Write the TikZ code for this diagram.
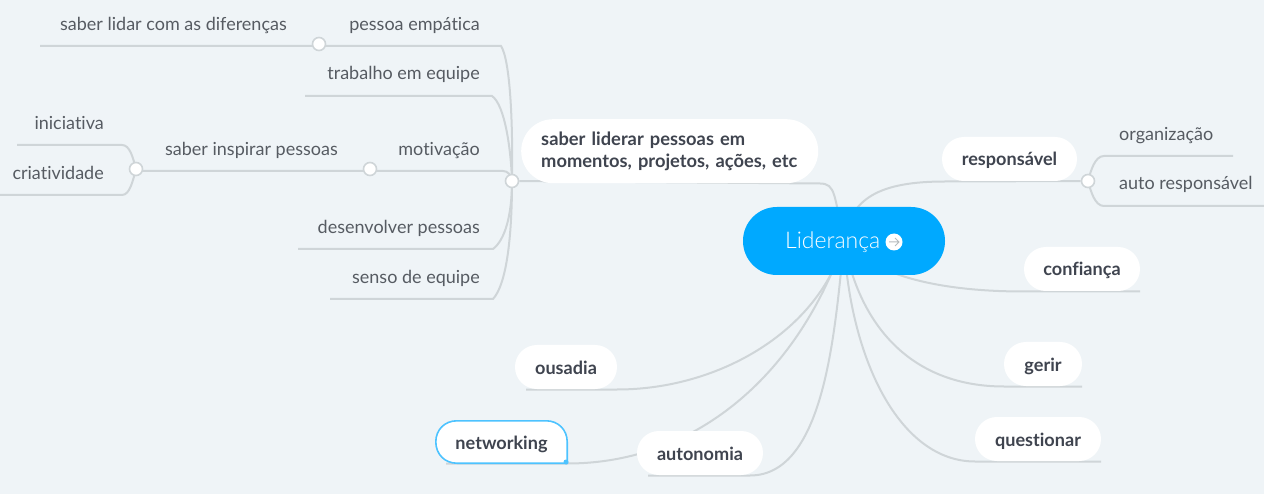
\documentclass[tikz,border=0pt]{standalone}
\usepackage{fontspec}
\setmainfont[Ligatures=NoCommon]{Lato}
\newfontfamily\lightfont{Lato Light}
\usetikzlibrary{backgrounds,calc}
\definecolor{bgc}{HTML}{EFF4F7}
\definecolor{linec}{HTML}{CFD5D8}
\definecolor{rootc}{HTML}{00A9FF}
\definecolor{topicc}{HTML}{3F444F}
\definecolor{subc}{HTML}{565B62}
\definecolor{selc}{HTML}{4DC3FF}
\tikzset{
  pill/.style={fill=white,inner sep=0pt,minimum height=44pt,rounded corners=21.9pt,text height=14pt,text depth=0pt,font=\fontsize{18.1}{20}\selectfont\bfseries,text=topicc},
  sub/.style={inner sep=0pt,yshift=-1.2pt,font=\fontsize{18}{20}\selectfont,text=subc},
  knob/.style={circle,fill=white,draw=linec,line width=1.6pt,minimum size=13pt,inner sep=0pt},
  link/.style={draw=linec,line width=2pt},
}
\begin{document}
\begin{tikzpicture}[x=1pt,y=-1pt]
\useasboundingbox (0,0) rectangle (1264,494);
% main topics
\node[fill=rootc,rounded corners=33.9pt,minimum width=202pt,minimum height=68pt,inner sep=0pt] (root) at (844,241) {};
\node[inner sep=0pt,anchor=base west,text=white,font=\lightfont\fontsize{23}{26}\selectfont] (rootlabel) at (785,248.5) {Liderança};
\node[circle,fill=white,minimum size=17pt,inner sep=0pt] (icon) at (894,242) {};
\node[fill=white,inner sep=0pt,minimum width=297pt,minimum height=64pt,rounded corners=31.9pt,align=left,anchor=north west,text width=257pt,inner xsep=20pt,text=topicc,font=\fontsize{18.3}{22}\selectfont\bfseries] (lead) at (521,119) {saber liderar pessoas em\\momentos, projetos, ações, etc};
\node[pill,minimum width=135pt] (resp) at (1009.5,159) {responsável};
\node[pill,minimum width=116pt] (conf) at (1082,269) {confiança};
\node[pill,minimum width=78pt] (gerir) at (1043,364) {gerir};
\node[pill,minimum width=126pt] (quest) at (1038,439) {questionar};
\node[pill,minimum width=102pt] (ous) at (566,367) {ousadia};
\node[pill,minimum width=126pt] (auto) at (700,453) {autonomia};
\node[inner sep=0pt,minimum width=131pt,minimum height=42pt,text height=14pt,text depth=0pt,font=\fontsize{18.1}{20}\selectfont\bfseries,text=topicc] (net) at (501.5,442) {networking};
\node[circle,fill=selc,minimum size=5pt,inner sep=0pt] (netdot) at (566,462) {};
% knobs
\node[knob] (hub) at (512,181) {};
\node[knob] (knobemp) at (319,44) {};
\node[knob] (knobmot) at (370,169) {};
\node[knob] (knobins) at (136,169) {};
\node[knob] (knobresp) at (1088,181) {};
% subtopic labels
\node[sub,anchor=east] (emp) at (480,24) {pessoa empática};
\node[sub,anchor=east] (dif) at (287,24) {saber lidar com as diferenças};
\node[sub,anchor=east] (trab) at (480,73) {trabalho em equipe};
\node[sub,anchor=east] (mot) at (480,149) {motivação};
\node[sub,anchor=east] (ins) at (338,149) {saber inspirar pessoas};
\node[sub,anchor=east] (ini) at (104,122) {iniciativa};
\node[sub,anchor=east] (cri) at (104,172) {criatividade};
\node[sub,anchor=east] (des) at (480,227) {desenvolver pessoas};
\node[sub,anchor=east] (sen) at (480,277) {senso de equipe};
\node[sub,anchor=west] (org) at (1119,134) {organização};
\node[sub,anchor=west] (ars) at (1119,183) {auto responsável};
% free ends
\coordinate (endemp) at (40,46);
\coordinate (endtrab) at (305,96);
\coordinate (endini) at (17,145);
\coordinate (endcri) at (0,195);
\coordinate (enddes) at (298,249);
\coordinate (endsen) at (330,299);
\coordinate (endorg) at (1233,156);
\coordinate (endars) at (1264,206);
\begin{scope}[on background layer]
\fill[bgc] (0,0) rectangle (1264,494);
% root links
\draw[link] (root.center) .. controls (834,196) and (836,183.5) .. (820,183.5) -- (hub);
\draw[link] (root.center) .. controls (850,198) and (880,181.5) .. (945,181.5) -- (knobresp);
\draw[link] (root.center) .. controls (870,272) and (930,291.5) .. (1024,291.5) -- (conf.south east |- 0,291.5);
\draw[link] (root.center) .. controls (860,330) and (915,386.5) .. (1004,386.5) -- (gerir.south east |- 0,386.5);
\draw[link] (root.center) .. controls (850,360) and (900,461.5) .. (975,461.5) -- (quest.south east |- 0,461.5);
\draw[link] (root.center) .. controls (820,330) and (720,389.5) .. (ous.south east |- 0,389.5) -- (526,389.5);
\draw[link] (root.center) .. controls (800,370) and (700,463.5) .. (net.south east |- 0,463.5) -- (446,463.5);
\draw[link] (root.center) .. controls (835,330) and (825,475.5) .. (750,475.5) -- (648,475.5);
% left cluster
\draw[link] (hub.center) .. controls (513,120) and (510,60) .. (501,46) -- (endemp);
\draw[link] (hub.center) .. controls (511,150) and (505,105) .. (492,96) -- (endtrab);
\draw[link] (hub.center) .. controls (511,175) and (508,171) .. (503,171) -- (knobins.center |- 0,171);
\draw[link] (hub.center) .. controls (512,215) and (505,240) .. (493,249) -- (enddes);
\draw[link] (hub.center) .. controls (512,240) and (506,285) .. (493,299) -- (endsen);
\draw[link] (knobins.center) .. controls (133,158) and (130,145) .. (122,145) -- (endini);
\draw[link] (knobins.center) .. controls (133,180) and (130,195) .. (122,195) -- (endcri);
% right cluster
\draw[link] (knobresp.center) .. controls (1091,170) and (1095,156) .. (1104,156) -- (endorg);
\draw[link] (knobresp.center) .. controls (1091,192) and (1095,206) .. (1104,206) -- (endars);
% selected topic
\draw[selc,line width=1.6pt,fill=white] (net.south east) -- ($(net.north east)+(0,21)$) .. controls ($(net.north east)+(0,9)$) and ($(net.north east)+(-9,0)$) .. ($(net.north east)+(-21,0)$) -- ($(net.north west)+(21,0)$) .. controls ($(net.north west)+(9,0)$) and ($(net.north west)+(0,9)$) .. ($(net.north west)+(0,21)$) .. controls ($(net.south west)+(0,-9)$) and ($(net.south west)+(9,0)$) .. ($(net.south west)+(21,0)$) -- cycle;
\end{scope}
% icon arrow
\draw[linec!70!gray,line width=1pt] ($(icon.center)+(-5,0)$) -- ($(icon.center)+(5,0)$) ($(icon.center)+(1,-4)$) -- ($(icon.center)+(5,0)$) -- ($(icon.center)+(1,4)$);
\end{tikzpicture}
\end{document}
